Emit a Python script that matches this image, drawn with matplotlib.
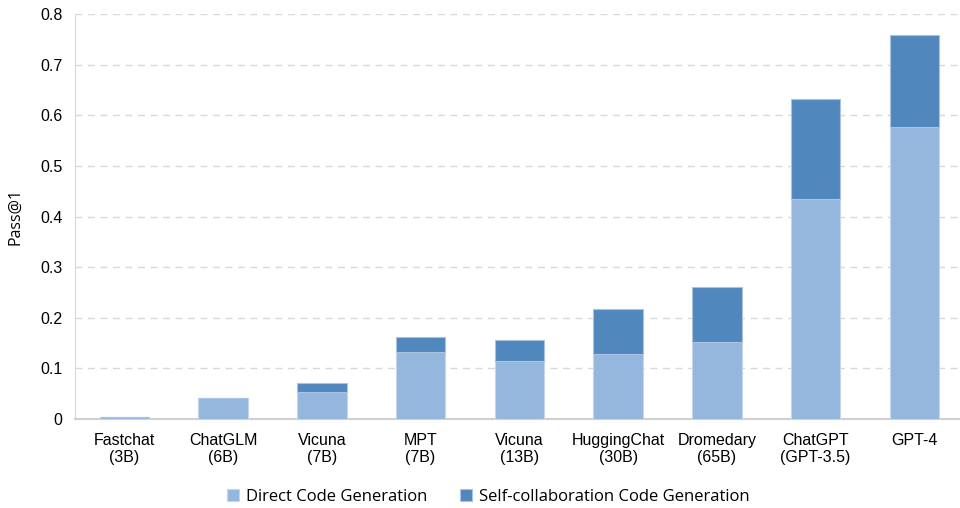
import numpy as np
import matplotlib.pyplot as plt

models = ['Fastchat\n(3B)', 'ChatGLM\n(6B)', 'Vicuna\n(7B)', 'MPT\n(7B)', 'Vicuna\n(13B)',
          'HuggingChat\n(30B)', 'Dromedary\n(65B)', 'ChatGPT\n(GPT-3.5)', 'GPT-4']
direct = [0.005, 0.041, 0.053, 0.133, 0.115, 0.128, 0.152, 0.435, 0.577]
total = [0.005, 0.041, 0.072, 0.163, 0.156, 0.217, 0.261, 0.633, 0.758]
collab = [t - d for t, d in zip(total, direct)]

fig = plt.figure(figsize=(9.6, 5.08), dpi=100)
ax = fig.add_axes([0.078, 0.175, 0.926, 0.797])

x = np.arange(len(models))
ax.bar(x, direct, width=0.5, color='#95b7dd', edgecolor='#c5d7ec', linewidth=0.8,
       label='Direct Code Generation', zorder=3)
ax.bar(x, collab, width=0.5, bottom=direct, color='#5087bc', edgecolor='#a9c3e0', linewidth=0.8,
       label='Self-collaboration Code Generation', zorder=3)

ax.set_xlim(-0.5, len(models) - 0.5)
ax.set_ylim(0, 0.8)
ax.set_yticks(np.arange(0, 0.81, 0.1))
ax.set_yticklabels(['0'] + ['%.1f' % v for v in np.arange(0.1, 0.81, 0.1)],
                   family='Liberation Sans', fontsize=11.5)
ax.set_xticks(x)
ax.set_xticklabels(models, family='Liberation Sans', fontsize=11.5)
ax.tick_params(axis='y', length=0, pad=9)
ax.tick_params(axis='x', length=0, pad=10)
ax.yaxis.grid(True, color='#d9d9d9', linestyle=(0, (5, 4)), linewidth=1)
for s in ['top', 'right']:
    ax.spines[s].set_visible(False)
ax.spines['left'].set_color('#d9d9d9')
ax.spines['bottom'].set_color('#d0d0d0')
ax.spines['bottom'].set_linewidth(1.5)

ax.set_ylabel('Pass@1', family='Open Sans', fontsize=11.5, labelpad=12)

ax.legend(loc='upper center', bbox_to_anchor=(0.465, -0.135), ncol=2, frameon=False,
          prop={'family': 'Open Sans', 'size': 12}, handlelength=0.7, handleheight=0.7,
          columnspacing=2.0, handletextpad=0.4)

fig.savefig('out.png', dpi=100)
